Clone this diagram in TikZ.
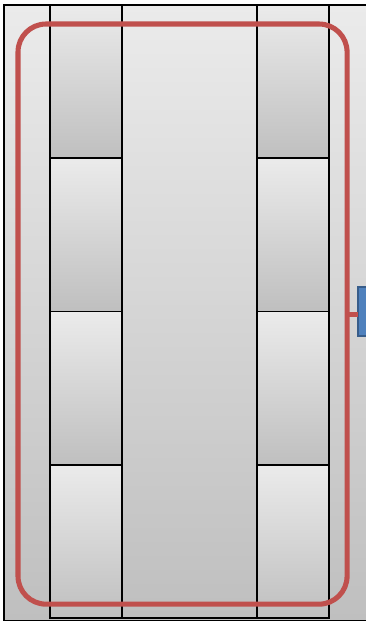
\documentclass[tikz,border=0pt]{standalone}
\usetikzlibrary{positioning}
\definecolor{lanelight}{HTML}{EBEBEB}
\definecolor{lanedark}{HTML}{BFBFBF}
\definecolor{ringred}{HTML}{C0504D}
\definecolor{portblue}{HTML}{4F81BD}
\definecolor{portedge}{HTML}{385D8A}
\begin{document}
\begin{tikzpicture}[x=0.025cm, y=-0.025cm,
          frame/.style={draw=black, line width=0.8pt, top color=lanelight, bottom color=lanedark, outer sep=0pt, inner sep=0pt, anchor=north west},
          cell/.style={draw=black, line width=1.3pt, top color=lanelight, bottom color=lanedark, outer sep=0pt, inner sep=0pt, minimum width=1.8cm, minimum height=3.83cm},
          ring/.style={draw=ringred, line width=3.6pt, rounded corners=0.7cm, outer sep=0pt, inner sep=0pt, anchor=north west},
          port/.style={draw=portedge, line width=0.8pt, fill=portblue, outer sep=0pt, inner sep=0pt, anchor=north west}]
        \useasboundingbox (0,0) rectangle (366,621);
        \clip (0,0) rectangle (366,621);
        % background and middle lane
        \node[frame, minimum width=9.4cm, minimum height=15.375cm] (bg) at (4,5) {};
        \node[frame, line width=1.3pt, minimum width=3.375cm, minimum height=15.32cm] (mid) at (122,5) {};
        % left lane
        \node[cell, anchor=north west] (l1) at (50,5) {};
        \node[cell, below=0pt of l1] (l2) {};
        \node[cell, below=0pt of l2] (l3) {};
        \node[cell, below=0pt of l3] (l4) {};
        % right lane
        \node[cell, anchor=north west] (r1) at (257,5) {};
        \node[cell, below=0pt of r1] (r2) {};
        \node[cell, below=0pt of r2] (r3) {};
        \node[cell, below=0pt of r3] (r4) {};
        % ring and port
        \node[ring, minimum width=8.225cm, minimum height=14.5cm] (rg) at (18,24) {};
        \node[port, minimum width=1cm, minimum height=1.225cm] (pt) at (358,287) {};
        \draw[ringred, line width=3.6pt] (rg.east) -- (rg.east -| pt.west);
      \end{tikzpicture}
\end{document}
